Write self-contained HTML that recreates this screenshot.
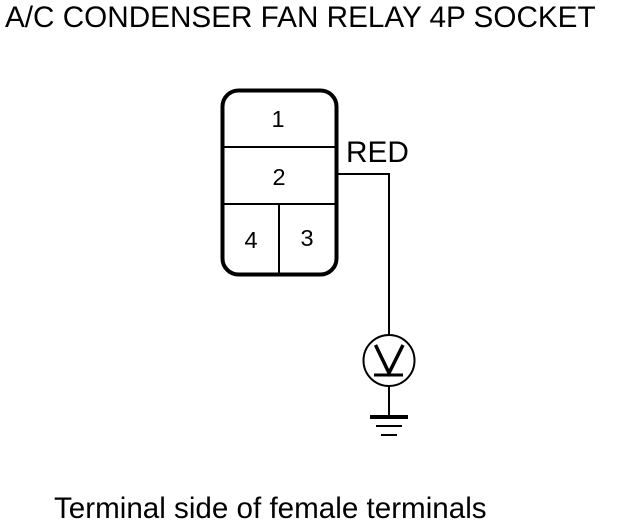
<!DOCTYPE html>
<html>
<head>
<meta charset="utf-8">
<style>
html,body{margin:0;padding:0;background:#fff;width:624px;height:528px;overflow:hidden}
svg{display:block}
text{font-family:"Liberation Sans",sans-serif;fill:#000}
</style>
</head>
<body>
<svg width="624" height="528" viewBox="0 0 624 528" xmlns="http://www.w3.org/2000/svg">
<rect x="222.500" y="90.500" width="114" height="184" rx="16" ry="16" fill="none" stroke="#000" stroke-width="4"/>
<g stroke="#000" fill="none" shape-rendering="crispEdges">
<line x1="222" y1="147" x2="337" y2="147" stroke-width="2"/>
<line x1="222" y1="204" x2="337" y2="204" stroke-width="2"/>
<line x1="279" y1="204" x2="279" y2="274" stroke-width="2"/>
<line x1="338" y1="174" x2="390" y2="174" stroke-width="2"/>
<line x1="389" y1="173" x2="389" y2="335" stroke-width="2"/>
<line x1="389" y1="386" x2="389" y2="417" stroke-width="2"/>
<line x1="370" y1="417" x2="408" y2="417" stroke-width="4"/>
<line x1="376" y1="426" x2="402" y2="426" stroke-width="2"/>
<line x1="381" y1="435" x2="397" y2="435" stroke-width="2"/>
<line x1="374" y1="375" x2="403" y2="375" stroke-width="3"/>
</g>
<circle cx="389" cy="360.500" r="25.500" fill="none" stroke="#000" stroke-width="2"/>
<path d="M375.500 345 L389 373 L403 345" fill="none" stroke="#000" stroke-width="3.500"/>
<text x="5" y="27" font-size="29.700">A/C CONDENSER FAN RELAY 4P SOCKET</text>
<text x="346" y="162" font-size="29.800">RED</text>
<text x="278" y="127" font-size="23.500" text-anchor="middle">1</text>
<text x="279" y="185" font-size="23.500" text-anchor="middle">2</text>
<text x="251" y="248" font-size="23.500" text-anchor="middle">4</text>
<text x="307" y="246" font-size="23.500" text-anchor="middle">3</text>
<text x="54" y="518" font-size="29.600">Terminal side of female terminals</text>
</svg>
</body>
</html>
